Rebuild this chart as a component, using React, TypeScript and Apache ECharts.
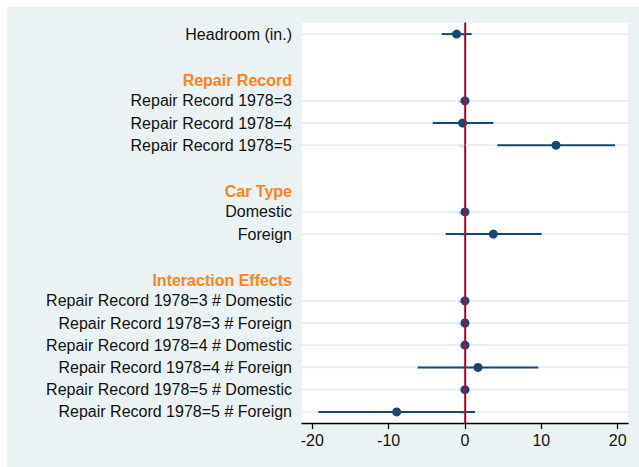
import React, { useEffect, useRef } from "react";
import * as echarts from "echarts";

const rowLabels: string[] = [
  "Headroom (in.)",
  "",
  "Repair Record",
  "Repair Record 1978=3",
  "Repair Record 1978=4",
  "Repair Record 1978=5",
  "",
  "Car Type",
  "Domestic",
  "Foreign",
  "",
  "Interaction Effects",
  "Repair Record 1978=3 # Domestic",
  "Repair Record 1978=3 # Foreign",
  "Repair Record 1978=4 # Domestic",
  "Repair Record 1978=4 # Foreign",
  "Repair Record 1978=5 # Domestic",
  "Repair Record 1978=5 # Foreign",
];

const headings: string[] = ["Repair Record", "Car Type", "Interaction Effects"];

const estimates: (number | null)[] = [
  -1.1, null, null, 0, -0.31, 11.92, null, null, 0, 3.71, null, null, 0, 0, 0, 1.7, 0, -8.95,
];
const lowerCI: (number | null)[] = [
  -3.05, null, null, null, -4.23, 4.23, null, null, null, -2.53, null, null, null, null, null, -6.2, null, -19.2,
];
const upperCI: (number | null)[] = [
  0.87, null, null, null, 3.71, 19.65, null, null, null, 10.04, null, null, null, null, null, 9.6, null, 1.31,
];

const xTicks: number[] = [-20, -10, 0, 10, 20];
const referenceX = 0;

const NAVY = "#1a476f";
const FONT = "Liberation Sans, Arial, Helvetica, sans-serif";

export default function App() {
  const ref = useRef<HTMLDivElement>(null);
  useEffect(() => {
    if (!ref.current) return;
    const chart = echarts.init(ref.current, undefined, { renderer: "svg" });
    const pointData: any[] = [];
    const ciData: any[] = [];
    const gridData: any[] = [];
    estimates.forEach((v, i) => {
      if (v !== null) {
        pointData.push([v, i]);
        gridData.push([0, i]);
      }
      if (lowerCI[i] !== null && upperCI[i] !== null) {
        ciData.push([lowerCI[i], upperCI[i], i]);
      }
    });
    const isCoefRow = (index: number) => estimates[index] !== null;
    chart.setOption({
      animation: false,
      backgroundColor: "#eaf2f3",
      textStyle: { fontFamily: FONT },
      grid: {
        left: 295,
        top: 16,
        right: 11,
        bottom: 44,
        show: true,
        backgroundColor: "#ffffff",
        borderWidth: 0,
        containLabel: false,
      },
      xAxis: {
        type: "value",
        min: -21.35,
        max: 21.35,
        axisLine: { show: true, onZero: false, lineStyle: { color: "#000", width: 1.3 } },
        axisTick: {
          show: true,
          length: 6,
          customValues: xTicks,
          lineStyle: { color: "#000", width: 1.3 },
        },
        axisLabel: {
          customValues: xTicks,
          color: "#111",
          fontSize: 16,
          fontFamily: FONT,
          margin: 9,
        },
        splitLine: { show: false },
      },
      yAxis: {
        type: "category",
        inverse: true,
        data: rowLabels,
        boundaryGap: true,
        axisLine: { show: true, lineStyle: { color: "#000", width: 1.3 } },
        axisTick: {
          show: true,
          alignWithLabel: true,
          length: 6,
          interval: (index: number) => isCoefRow(index),
          lineStyle: { color: "#000", width: 1.3 },
        },
        axisLabel: {
          interval: 0,
          margin: 10,
          formatter: (value: string) =>
            headings.indexOf(value) >= 0 ? "{h|" + value + "}" : "{n|" + value + "}",
          rich: {
            h: { color: "#ff8419", fontWeight: "bold", fontSize: 16, fontFamily: FONT, padding: [3, 0, 0, 0] },
            n: { color: "#111", fontSize: 16, fontFamily: FONT },
          },
        },
        splitLine: { show: false },
      },
      series: [
        {
          type: "custom",
          z: 1,
          silent: true,
          data: gridData,
          encode: { x: 0, y: 1 },
          renderItem: (params: any, api: any) => {
            const p = api.coord([0, api.value(1)]);
            const cs = params.coordSys;
            return {
              type: "line",
              shape: { x1: cs.x, y1: p[1], x2: cs.x + cs.width, y2: p[1] },
              style: { stroke: "#e6eef0", lineWidth: 1.8 },
            };
          },
        },
        {
          type: "scatter",
          z: 2,
          silent: true,
          data: [],
          markLine: {
            silent: true,
            symbol: "none",
            label: { show: false },
            lineStyle: { color: "#c10534", width: 1.6, type: "solid" },
            data: [{ xAxis: referenceX }],
          },
        },
        {
          type: "custom",
          z: 3,
          silent: true,
          data: ciData,
          encode: { x: [0, 1], y: 2 },
          renderItem: (params: any, api: any) => {
            const a = api.coord([api.value(0), api.value(2)]);
            const b = api.coord([api.value(1), api.value(2)]);
            return {
              type: "line",
              shape: { x1: a[0], y1: a[1], x2: b[0], y2: b[1] },
              style: { stroke: NAVY, lineWidth: 2 },
            };
          },
        },
        {
          type: "scatter",
          z: 4,
          data: pointData,
          symbol: "circle",
          symbolSize: 9,
          itemStyle: { color: NAVY, opacity: 1 },
        },
      ],
    });
    return () => chart.dispose();
  }, []);
  return (
    <div
      ref={ref}
      style={{ position: "absolute", left: 7, top: 7, width: 632, height: 460 }}
    />
  );
}
